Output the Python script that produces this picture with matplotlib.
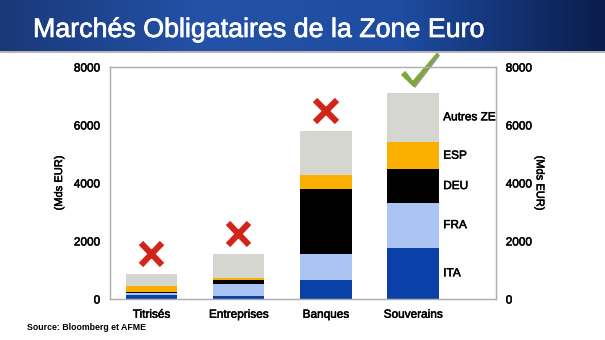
import numpy as np
import matplotlib
matplotlib.use("Agg")
import matplotlib.pyplot as plt
from matplotlib.path import Path
import matplotlib.patheffects as pe

plt.rcParams['font.family'] = ['Liberation Sans', 'DejaVu Sans']

# data (Mds EUR)
categories = ['Titrisés', 'Entreprises', 'Banques', 'Souverains']
series = ['ITA', 'FRA', 'DEU', 'ESP', 'Autres ZE']
ita = [155, 90, 655, 1770]
fra = [50, 415, 900, 1550]
deu = [45, 160, 2240, 1150]
esp = [185, 70, 480, 940]
autres = [430, 810, 1510, 1710]
verdict = [False, False, False, True]   # croix rouge / coche verte
colors = ['#0a40a8', '#aac4f4', '#000000', '#fbb000', '#d6d6d0']

# un peu plus gras, comme le rendu Helvetica d'origine
heavy = [pe.withStroke(linewidth=0.35, foreground='black')]

fig = plt.figure(figsize=(6.05, 3.4), dpi=100)

# bandeau titre
ban = fig.add_axes([0, 1 - 51 / 340, 1, 51 / 340])
grad = np.linspace(0, 1, 256)
cmap = matplotlib.colors.LinearSegmentedColormap.from_list(
    'ban', ['#1a3878', '#2352a8', '#1e4ca0', '#0a1c4c'])
ban.imshow(grad[None, :], aspect='auto', cmap=cmap, extent=[0, 1, 0, 1])
ban.set_axis_off()
fig.add_artist(plt.Line2D([0, 1], [1 - 52 / 340] * 2, color='#a8a8a8', lw=1.2))
fig.text(33 / 605, 1 - 37 / 340, 'Marchés Obligataires de la Zone Euro',
         color='white', fontsize=19.3, va='baseline', ha='left',
         path_effects=[pe.withStroke(linewidth=0.5, foreground='white')])

ax = fig.add_axes([110 / 605, 1 - 299 / 340, 386 / 605, 232 / 340])
x = np.arange(len(categories))
w = 0.59
bottom = np.zeros(len(categories))
for name, vals, c in zip(series, [ita, fra, deu, esp, autres], colors):
    vals = np.array(vals)
    ax.bar(x, vals, w, bottom=bottom, color=c, zorder=2)
    # etiquettes a droite de la derniere barre
    ax.text(x[-1] + w / 2 + 0.05, bottom[-1] + vals[-1] / 2, name,
            fontsize=8.5, va='center', ha='left', path_effects=heavy)
    bottom += vals

shadow = [pe.SimplePatchShadow(offset=(1, -1), shadow_rgbFace='#333333', alpha=0.5), pe.Normal()]
cv = np.array([(0, 12), (4, 15.5), (11.5, 5.5), (36, 34), (38, 33), (12.5, 0), (0, 12)])
cv = cv - [19, 17]
check = Path(cv, [Path.MOVETO] + [Path.LINETO] * 5 + [Path.CLOSEPOLY])
for xi, tot, ok in zip(x, bottom, verdict):
    if ok:
        ax.plot(xi + 0.08, tot + 780, marker=check, ms=27, color='#7ca83a',
                mec='#7ca83a', mew=0.5, clip_on=False, zorder=5,
                path_effects=shadow)
    else:
        ax.plot(xi, tot + 690, marker='x', ms=15.5, mew=4.4, color='#d22418',
                clip_on=False, zorder=5, path_effects=shadow)

ax.set_xlim(-0.475, 3.95)
ax.set_ylim(0, 8000)
ax.set_yticks([0, 2000, 4000, 6000, 8000])
ax.set_xticks(x)
ax.set_xticklabels(categories, fontsize=8.5)
ax.tick_params(axis='both', length=0, labelsize=8.5)
ax.tick_params(axis='y', pad=7)
ax.tick_params(axis='x', pad=7)
ax.set_ylabel('(Mds EUR)', fontsize=8, labelpad=7)
for s in ax.spines.values():
    s.set_color('#b0b0b0')
    s.set_linewidth(0.9)

ax2 = ax.twinx()
ax2.set_ylim(0, 8000)
ax2.set_yticks([0, 2000, 4000, 6000, 8000])
ax2.tick_params(axis='y', length=0, labelsize=8.5, pad=7)
ax2.set_ylabel('(Mds EUR)', fontsize=8, rotation=-90, labelpad=9)
for s in ax2.spines.values():
    s.set_color('#b0b0b0')
    s.set_linewidth(0.9)

for t in (ax.get_xticklabels() + ax.get_yticklabels() + ax2.get_yticklabels()
          + [ax.yaxis.label, ax2.yaxis.label]):
    t.set_path_effects(heavy)

fig.text(27 / 605, 1 - 327 / 340, 'Source: Bloomberg et AFME', fontsize=6.3,
         fontweight='bold', va='center', ha='left')

fig.savefig('out.png', dpi=100)
